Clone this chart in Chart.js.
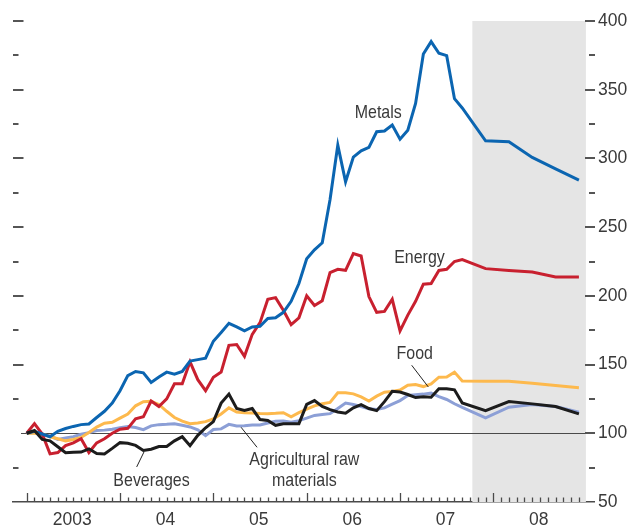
<!DOCTYPE html>
<html>
<head>
<meta charset="utf-8">
<script src="https://cdn.jsdelivr.net/npm/chart.js@4.4.1/dist/chart.umd.min.js"></script>
<style>
  html, body { margin: 0; padding: 0; background: #fff; }
  #chart { display: block; }
</style>
</head>
<body>
<canvas id="chart" width="628" height="529"></canvas>
<script>
// ── Data: month offsets from Jan 2003 (monthly to Sep 2007, then quarterly projections)
const months = [
   0,  1,  2,  3,  4,  5,  6,  7,  8,  9, 10, 11,
  12, 13, 14, 15, 16, 17, 18, 19, 20, 21, 22, 23,
  24, 25, 26, 27, 28, 29, 30, 31, 32, 33, 34, 35,
  36, 37, 38, 39, 40, 41, 42, 43, 44, 45, 46, 47,
  48, 49, 50, 51, 52, 53, 54, 55, 56,
  59, 62, 65, 68, 71,
];

const metals = [
  100, 101.5, 99.5, 97.5, 101.5, 103.5, 105, 106.3, 106.8, 111.5, 116, 122,
  131, 142, 145, 144, 137, 141, 144.5, 143, 145, 152.5, 153.6, 154.7,
  167, 173.4, 180, 177.4, 174.5, 177.4, 177.8, 183.6, 184, 188, 196, 209,
  227, 233.5, 238.6, 270, 309.7, 283, 301, 305.5, 308, 319.4, 320, 324.3,
  314, 320.5, 340, 376, 385, 376.5, 374.8, 343.5, 336.7,
  312.8, 312.1, 300.7, 292.4, 284.2,
];

const energy = [
  100, 107, 99.5, 85, 86, 91, 93, 96, 86, 93, 96, 100,
  103, 103.6, 110.5, 112, 123.5, 119.5, 125, 136, 136, 152, 139, 131,
  140.8, 144.5, 164, 164.6, 156, 172, 180.5, 197.5, 198.7, 189.5, 179, 184,
  200, 193, 196.5, 217, 219.3, 218.6, 230.8, 229, 199.5, 188, 188.7, 197.5,
  174.5, 186, 196, 208.5, 209, 218.5, 219.3, 225, 226.4,
  219.8, 218.5, 217.3, 213.7, 213.7,
];

const food = [
  100, 100, 99.5, 97.5, 96, 94.5, 95.5, 97, 100.5, 104.5, 107.3, 108,
  111, 114, 120, 123, 123.3, 121, 116, 111.5, 108.8, 107, 107.5, 108.5,
  110.5, 114, 118.5, 115.5, 115, 114.8, 114.4, 114.2, 114.5, 115, 112, 115,
  117.5, 120, 121.5, 122.5, 129.5, 129.5, 128.7, 126.5, 123.5, 127, 129.9, 130.5,
  131.5, 135, 135.5, 134, 136, 140.8, 141, 144.5, 138,
  137.9, 137.9, 136.4, 134.8, 133.1,
];

const agriRaw = [
  100, 100.5, 99, 98, 95.5, 96.5, 97.5, 99.3, 100.5, 102, 102.3, 103,
  104, 104.9, 104.2, 102.6, 105.4, 106.3, 106.5, 106.9, 105.8, 104.6, 102.5, 98.3,
  102.7, 103.2, 106.5, 105.3, 105.5, 106.1, 106.1, 107.5, 108.8, 109, 108, 109.2,
  111, 113, 113.6, 114.3, 118, 122, 121, 119.5, 117.8, 117.4, 118.5, 121.2,
  123.8, 127.5, 128, 128.5, 129.2, 126.7, 124.6, 121.5, 118.8,
  111.2, 119, 120.9, 119.5, 115.3,
];

const beverages = [
  100, 102, 95.5, 94.5, 90.2, 85.8, 86.2, 86.3, 88.7, 85.3, 85, 89,
  93.2, 92.7, 91.2, 87.5, 88.4, 90.3, 90.4, 94.5, 97.5, 91, 98.5, 104,
  108.5, 122, 128.5, 118, 116.6, 118, 110, 109.3, 105.8, 106.9, 107, 107,
  121, 123.8, 119.5, 117.2, 115.5, 114.6, 118.5, 120.9, 118, 116.5, 123, 130.5,
  130, 128.2, 126, 126.6, 126.2, 132.4, 132.4, 131.6, 122,
  116.5, 123.1, 121.4, 119.5, 114.1,
];

const yearLabels = ['2003', '04', '05', '06', '07', '08'];
const yTicks     = [50, 100, 150, 200, 250, 300, 350, 400];
const projectionStart = 57.3;   // shaded projection period (month offset)
const projectionEnd   = 71.9;

// ── Styling
const FONT   = '"Liberation Sans", Arial, sans-serif';
const TEXT   = '#3a3a3a';
const AXIS   = '#4a4a4a';
const COLORS = {
  metals:    '#0b65b1',
  energy:    '#c8202f',
  food:      '#fdb94d',
  agri:      '#8c9fd6',
  beverages: '#1c1c1c',
};

// In-chart labels, anchored in data units (month offset, index value)
const seriesLabels = [
  { text: 'Metals',           x: 45.2,  y: 329.2 },
  { text: 'Energy',           x: 50.5,  y: 223.6 },
  { text: 'Food',             x: 49.9,  y: 154.4 },
  { text: 'Beverages',        x: 16.05, y: 61.6 },
  { text: 'Agricultural raw', x: 35.7,  y: 76.7 },
  { text: 'materials',        x: 35.7,  y: 61.6 },
];
const leaders = [
  [[49.5, 149.5], [51.64, 133.7]],   // Food
  [[14.14, 75.5], [15.08, 86.4]],    // Beverages
  [[27.56, 104.4], [29.62, 89.8]],   // Agricultural raw materials
];

const pts = arr => arr.map((v, i) => ({ x: months[i], y: v }));

const line = (label, data, color, width = 3) => ({
  label,
  data: pts(data),
  borderColor: color,
  backgroundColor: color,
  borderWidth: width,
  pointRadius: 0,
  tension: 0,
  fill: false,
});

// ── Background shading, 100 reference line and tick marks
const framePlugin = {
  id: 'frame',
  beforeDatasetsDraw(chart) {
    const { ctx, chartArea: a, scales: { x, y } } = chart;
    ctx.save();

    // projection period
    ctx.fillStyle = '#e5e5e5';
    const sx = x.getPixelForValue(projectionStart);
    const ex = x.getPixelForValue(projectionEnd);
    ctx.fillRect(sx, a.top, ex - sx, a.bottom - a.top);

    // 100 line
    const y100 = Math.round(y.getPixelForValue(100)) + 0.5;
    ctx.strokeStyle = AXIS;
    ctx.lineWidth = 1.2;
    ctx.beginPath();
    ctx.moveTo(a.left + 8, y100);
    ctx.lineTo(a.right - 2, y100);
    ctx.stroke();

    // monthly ticks on the x axis, pointing up
    ctx.lineWidth = 1.3;
    for (let m = 0; m <= 71; m++) {
      const px = Math.round(x.getPixelForValue(m)) + 0.5;
      const len = m % 12 === 0 ? 9 : 4.5;
      ctx.beginPath();
      ctx.moveTo(px, a.bottom);
      ctx.lineTo(px, a.bottom - len);
      ctx.stroke();
    }

    // left and right value ticks every 25
    ctx.lineWidth = 2;
    ctx.strokeStyle = '#555';
    for (let v = 75; v <= 400; v += 25) {
      const py = Math.round(y.getPixelForValue(v));
      const major = v % 50 === 0;
      if (v !== 100) {
        ctx.beginPath();
        ctx.moveTo(a.left, py);
        ctx.lineTo(a.left + (major ? 10.5 : 5.5), py);
        ctx.stroke();
      }
      ctx.beginPath();
      ctx.moveTo(a.right - (major ? 9 : 5), py);
      ctx.lineTo(a.right + 1, py);
      ctx.stroke();
    }
    ctx.restore();
  },
  afterDatasetsDraw(chart) {
    const { ctx, scales: { x, y } } = chart;
    const squeeze = 0.84;   // condensed look
    ctx.save();
    ctx.fillStyle = TEXT;
    ctx.font = `19px ${FONT}`;
    ctx.textAlign = 'center';
    ctx.textBaseline = 'alphabetic';
    seriesLabels.forEach(l => {
      const px = x.getPixelForValue(l.x);
      const py = y.getPixelForValue(l.y);
      ctx.save();
      ctx.translate(px, py);
      ctx.scale(squeeze, 1);
      ctx.fillText(l.text, 0, 0);
      ctx.restore();
    });
    ctx.strokeStyle = '#222';
    ctx.lineWidth = 1;
    leaders.forEach(([p0, p1]) => {
      ctx.beginPath();
      ctx.moveTo(x.getPixelForValue(p0[0]), y.getPixelForValue(p0[1]));
      ctx.lineTo(x.getPixelForValue(p1[0]), y.getPixelForValue(p1[1]));
      ctx.stroke();
    });
    ctx.restore();
  },
};

new Chart(document.getElementById('chart'), {
  type: 'line',
  data: {
    datasets: [
      line('Beverages', beverages, COLORS.beverages),
      line('Metals', metals, COLORS.metals),
      line('Energy', energy, COLORS.energy),
      line('Food', food, COLORS.food),
      line('Agricultural raw materials', agriRaw, COLORS.agri),
    ],
  },
  options: {
    responsive: false,
    animation: false,
    devicePixelRatio: 1,
    layout: { padding: { left: 13, top: 21, right: 0, bottom: 0 } },
    plugins: {
      legend: { display: false },
      tooltip: { enabled: false },
    },
    scales: {
      x: {
        type: 'linear',
        min: -1.76,
        max: 72.94,
        afterFit: s => { s.height = 27; },
        afterBuildTicks: s => {
          s.ticks = yearLabels.map((_, i) => ({ value: i * 12 + 5.85 }));
        },
        grid: { display: false, drawTicks: false },
        border: { display: true, color: AXIS, width: 1.5 },
        ticks: {
          autoSkip: false,
          maxRotation: 0,
          padding: 8,
          color: TEXT,
          font: { family: FONT, size: 17.5 },
          callback: (v, i) => yearLabels[i],
        },
      },
      y: {
        type: 'linear',
        position: 'right',
        min: 50,
        max: 400,
        afterFit: s => { s.width = 34; },
        afterBuildTicks: s => {
          s.ticks = yTicks.map(v => ({ value: v }));
        },
        grid: { display: false, drawTicks: false },
        border: { display: false },
        ticks: {
          padding: 4,
          color: TEXT,
          font: { family: FONT, size: 17.5 },
        },
      },
    },
  },
  plugins: [framePlugin],
});
</script>
</body>
</html>
